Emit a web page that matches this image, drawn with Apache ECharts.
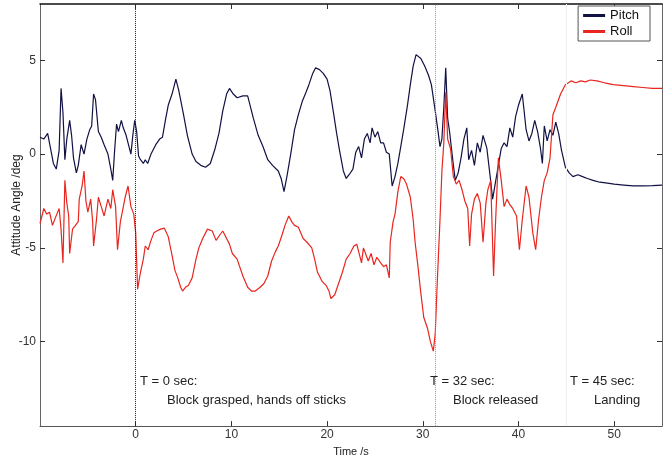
<!DOCTYPE html>
<html>
<head>
<meta charset="utf-8">
<script src="https://cdn.jsdelivr.net/npm/echarts@6/dist/echarts.min.js"></script>
<style>
  html, body { margin: 0; padding: 0; background: #fff; }
  #chart { width: 665px; height: 462px; }
</style>
</head>
<body>
<div id="chart"></div>
<script>
// time (s) and attitude angle (deg)
var pitchData = [
  [-10,0.9],[-9.6,0.8],[-9.2,1.1],[-8.9,0.3],[-8.6,-0.5],[-8.3,-0.8],[-8.0,0.2],[-7.8,3.5],[-7.6,2.2],
  [-7.4,-0.3],[-7.2,0.8],[-6.9,1.8],[-6.7,1.0],[-6.5,-0.2],[-6.2,-1.0],[-6.0,-0.6],[-5.7,0.5],[-5.4,0.0],
  [-5.1,0.8],[-4.8,1.3],[-4.6,1.5],[-4.4,3.2],[-4.2,2.9],[-3.9,1.2],[-3.6,0.9],[-3.3,0.5],[-2.9,0.0],
  [-2.6,-0.8],[-2.4,-1.4],[-2.2,0.2],[-2.0,1.6],[-1.8,1.2],[-1.5,1.8],[-1.3,1.4],[-1.0,1.0],[-0.7,0.4],
  [-0.5,0.0],[-0.3,1.0],[-0.1,1.8],[0.1,1.2],[0.3,-0.1],[0.5,-0.3],[0.8,-0.5],[1.0,-0.3],[1.25,-0.5],
  [1.6,0.0],[2.1,0.5],[2.5,0.8],[2.8,0.9],[3.1,1.8],[3.4,2.6],[3.8,3.2],[4.2,4.0],[4.5,3.4],[5.0,2.1],
  [5.4,1.0],[5.9,0.0],[6.3,-0.4],[6.8,-0.6],[7.3,-0.7],[7.8,-0.5],[8.3,0.3],[8.7,1.1],[9.1,2.3],[9.5,3.2],
  [9.8,3.5],[10.2,3.2],[10.6,3.0],[11.2,3.1],[11.7,3.1],[12.3,1.9],[12.8,1.0],[13.3,0.4],[13.8,-0.3],
  [14.3,-0.6],[14.9,-0.9],[15.2,-1.3],[15.5,-2.0],[15.8,-1.2],[16.2,0.0],[16.6,1.3],[17.0,2.1],[17.4,2.8],
  [17.8,3.3],[18.1,3.7],[18.5,4.3],[18.8,4.6],[19.2,4.5],[19.6,4.3],[20.0,4.0],[20.3,3.4],[20.7,2.1],
  [21.0,1.1],[21.3,0.2],[21.7,-0.9],[22.0,-1.3],[22.3,-1.1],[22.7,-0.8],[23.0,0.1],[23.3,0.4],[23.6,-0.2],
  [23.9,0.8],[24.2,1.1],[24.5,0.6],[24.7,1.4],[25.0,0.9],[25.3,1.2],[25.6,0.6],[25.9,0.6],[26.2,0.1],
  [26.5,0.0],[26.8,-1.7],[27.1,-1.2],[27.4,-0.5],[27.7,0.4],[28.0,1.3],[28.4,2.6],[28.7,3.7],[29.0,4.7],
  [29.3,5.3],[29.5,5.4],[29.8,5.1],[30.2,4.7],[30.6,4.2],[30.9,3.7],[31.3,2.3],[31.6,1.2],[31.8,0.4],
  [32.0,0.8],[32.2,2.5],[32.4,4.6],[32.6,1.9],[32.8,1.2],[33.0,0.3],[33.2,-0.6],[33.4,-1.4],[33.7,-1.0],
  [34.0,-0.2],[34.3,0.8],[34.6,1.4],[34.8,-0.3],[35.1,0.2],[35.4,-0.6],[35.7,0.6],[36.0,0.1],[36.3,1.0],
  [36.7,0.3],[37.0,-1.0],[37.3,-2.4],[37.6,-1.5],[37.9,-0.6],[38.2,0.3],[38.5,0.6],[38.8,0.4],[39.1,1.4],
  [39.4,0.9],[39.7,2.0],[40.0,2.6],[40.4,3.2],[40.6,3.3],[40.8,1.3],[41.1,0.7],[41.4,1.1],[41.7,1.8],
  [42.0,1.2],[42.3,0.3],[42.5,-0.5],[42.7,1.5],[43.0,0.7],[43.3,1.3],[43.6,1.0],[43.9,1.7],[44.2,1.1],
  [44.5,0.2],[44.9,-0.7],[45.3,-1.0],[45.7,-1.2],[46.2,-1.1],[46.7,-1.2],[47.2,-1.3],[47.8,-1.4],
  [48.5,-1.5],[49.3,-1.55],[50.0,-1.6],[51.0,-1.65],[52.0,-1.7],[53.0,-1.7],[54.0,-1.68],[55.0,-1.65]
];

var rollData = [
  [-10,-3.7],[-9.6,-2.9],[-9.3,-3.2],[-9.0,-3.1],[-8.7,-3.8],[-8.4,-3.4],[-8.0,-2.9],[-7.8,-4.0],[-7.6,-5.8],
  [-7.4,-1.4],[-7.2,-2.6],[-7.0,-3.3],[-6.9,-5.3],[-6.6,-4.0],[-6.3,-3.8],[-6.0,-3.6],[-5.9,-2.4],[-5.6,-1.7],
  [-5.4,-0.9],[-5.2,-2.5],[-5.0,-3.1],[-4.7,-2.4],[-4.5,-3.6],[-4.4,-4.9],[-4.1,-3.5],[-3.9,-2.3],[-3.6,-2.8],
  [-3.3,-3.3],[-2.9,-2.4],[-2.6,-2.9],[-2.4,-1.9],[-2.1,-2.8],[-1.9,-5.1],[-1.6,-3.6],[-1.4,-3.1],[-1.1,-2.3],
  [-0.8,-1.7],[-0.5,-2.8],[-0.2,-3.2],[0.0,-4.2],[0.2,-7.2],[0.5,-6.3],[0.8,-5.6],[1.0,-4.9],[1.3,-5.1],
  [1.6,-4.6],[1.9,-4.2],[2.2,-4.1],[2.6,-4.0],[3.0,-3.95],[3.4,-4.4],[3.8,-5.4],[4.1,-6.2],[4.4,-6.6],
  [4.7,-7.1],[4.9,-7.3],[5.2,-7.1],[5.5,-7.0],[5.9,-6.6],[6.3,-5.6],[6.6,-5.0],[7.0,-4.5],[7.5,-4.0],
  [8.0,-4.1],[8.4,-4.6],[8.8,-4.3],[9.1,-4.1],[9.5,-4.5],[9.8,-4.8],[10.1,-5.3],[10.6,-5.6],[11.2,-6.5],
  [11.7,-7.1],[12.1,-7.3],[12.5,-7.3],[13.0,-7.1],[13.4,-6.9],[13.8,-6.5],[14.2,-5.7],[14.6,-5.2],
  [14.9,-4.9],[15.3,-4.3],[15.6,-3.8],[16.0,-3.3],[16.3,-3.6],[16.6,-3.8],[17.0,-3.9],[17.5,-4.5],
  [17.9,-4.7],[18.4,-5.0],[18.7,-5.6],[19.0,-6.3],[19.5,-6.8],[19.9,-7.0],[20.2,-7.3],[20.4,-7.7],
  [20.8,-7.5],[21.2,-6.9],[21.6,-6.3],[22.0,-5.6],[22.4,-5.3],[22.8,-4.9],[23.1,-4.8],[23.3,-4.7],
  [23.6,-5.8],[23.8,-5.0],[24.0,-5.1],[24.3,-5.7],[24.6,-5.3],[24.9,-5.9],[25.2,-5.5],[25.6,-5.8],
  [25.9,-6.0],[26.2,-5.9],[26.5,-6.6],[26.6,-4.7],[26.9,-3.6],[27.1,-3.2],[27.4,-2.0],[27.7,-1.2],
  [28.0,-1.3],[28.3,-1.6],[28.7,-2.3],[29.0,-3.5],[29.2,-4.7],[29.5,-6.0],[29.75,-7.2],[30.1,-8.7],
  [30.5,-9.3],[30.8,-10.0],[31.1,-10.5],[31.3,-9.6],[31.5,-7.0],[31.8,-3.5],[32.0,-0.9],[32.2,0.6],
  [32.4,3.3],[32.6,0.8],[32.9,0.3],[33.2,-1.2],[33.5,-1.6],[33.8,-1.4],[34.1,-1.9],[34.4,-2.5],[34.7,-2.9],
  [34.9,-4.9],[35.1,-3.2],[35.4,-2.4],[35.7,-2.1],[36.0,-2.6],[36.3,-4.7],[36.6,-2.6],[36.8,-1.9],
  [37.1,-1.4],[37.4,-6.5],[37.6,-3.7],[37.9,-0.2],[38.2,-1.4],[38.5,-2.8],[38.8,-2.4],[39.1,-2.7],
  [39.4,-2.9],[39.8,-3.3],[40.1,-5.1],[40.4,-3.5],[40.8,-1.7],[41.1,-2.3],[41.5,-4.2],[41.8,-5.1],
  [42.1,-3.5],[42.4,-2.3],[42.7,-1.4],[43.0,-1.0],[43.3,-0.2],[43.6,2.1],[43.9,2.5],[44.4,3.2],[44.9,3.7],
  [45.5,3.9],[46.0,3.8],[46.5,3.9],[47.0,3.85],[47.5,3.95],[48.2,3.9],[49.0,3.8],[49.9,3.7],[51.0,3.65],
  [52.0,3.6],[53.0,3.55],[54.0,3.5],[55.0,3.5]
];

var xTicks = [0, 10, 20, 30, 40, 50];
var yTicks = [-10, -5, 0, 5];
var eventLines = [0, 31.3, 45];

var font = 'Liberation Sans, Arial, sans-serif';
var chart = echarts.init(document.getElementById('chart'));

var option = {
  animation: false,
  backgroundColor: '#fff',
  color: ['#111144', '#e8261f'],
  grid: { left: 40, right: 3, top: 4, bottom: 28 },
  legend: {
    data: ['Pitch', 'Roll'],
    orient: 'vertical',
    right: 15,
    top: 6,
    icon: 'rect',
    itemWidth: 22,
    itemHeight: 3,
    itemGap: 3,
    padding: [3, 11, 3, 5],
    borderColor: '#555',
    borderWidth: 1,
    backgroundColor: '#fff',
    textStyle: { fontFamily: font, fontSize: 13, color: '#111' }
  },
  xAxis: [{
    type: 'value',
    min: -10,
    max: 55,
    name: 'Time /s',
    nameLocation: 'middle',
    nameGap: 19,
    nameTextStyle: { fontFamily: font, fontSize: 11, color: '#222' },
    axisLine: { onZero: false, lineStyle: { color: '#555', width: 1 } },
    axisTick: { inside: true, length: 5, customValues: xTicks, lineStyle: { color: '#333' } },
    axisLabel: { customValues: xTicks, fontFamily: font, fontSize: 12, color: '#333', margin: 3 },
    splitLine: { show: false }
  }, {
    type: 'value',
    min: -10,
    max: 55,
    position: 'top',
    axisLine: { onZero: false, lineStyle: { color: '#111', width: 1.5 } },
    axisTick: { inside: true, length: 5, customValues: xTicks, lineStyle: { color: '#333' } },
    axisLabel: { show: false },
    splitLine: { show: false }
  }],
  yAxis: [{
    type: 'value',
    min: -14.5,
    max: 8,
    axisLine: { show: true, onZero: false, lineStyle: { color: '#666', width: 1 } },
    axisTick: { show: true, inside: true, length: 5, customValues: yTicks, lineStyle: { color: '#333' } },
    axisLabel: { customValues: yTicks, fontFamily: font, fontSize: 12, color: '#333', margin: 4 },
    splitLine: { show: false }
  }, {
    type: 'value',
    min: -14.5,
    max: 8,
    position: 'right',
    axisLine: { show: true, onZero: false, lineStyle: { color: '#666', width: 1 } },
    axisTick: { show: true, inside: true, length: 5, customValues: yTicks, lineStyle: { color: '#333' } },
    axisLabel: { show: false },
    splitLine: { show: false }
  }],
  series: [
    {
      name: 'Pitch',
      type: 'line',
      data: pitchData,
      showSymbol: false,
      lineStyle: { width: 1.2, color: '#111144' },
      markLine: {
        silent: true,
        symbol: 'none',
        label: { show: false },
        data: [
          { xAxis: eventLines[0], lineStyle: { color: '#222', type: 'dotted', width: 1 } },
          { xAxis: eventLines[1], lineStyle: { color: '#999', type: 'dotted', width: 1 } },
          { xAxis: eventLines[2], lineStyle: { color: '#eee', type: 'solid', width: 1 } }
        ]
      }
    },
    {
      name: 'Roll',
      type: 'line',
      data: rollData,
      showSymbol: false,
      lineStyle: { width: 1.2, color: '#e8261f' }
    }
  ],
  graphic: [
    { type: 'text', x: 17, y: 205, rotation: Math.PI / 2,
      style: { text: 'Attitude Angle /deg', fontFamily: font, fontSize: 12, fill: '#222', align: 'center', verticalAlign: 'middle' } },
    { type: 'text', x: 140, y: 381,
      style: { text: 'T = 0 sec:', fontFamily: font, fontSize: 13, fill: '#222', verticalAlign: 'middle' } },
    { type: 'text', x: 167, y: 400,
      style: { text: 'Block grasped, hands off sticks', fontFamily: font, fontSize: 13, fill: '#222', verticalAlign: 'middle' } },
    { type: 'text', x: 430, y: 381,
      style: { text: 'T = 32 sec:', fontFamily: font, fontSize: 13, fill: '#222', verticalAlign: 'middle' } },
    { type: 'text', x: 453, y: 400,
      style: { text: 'Block released', fontFamily: font, fontSize: 13, fill: '#222', verticalAlign: 'middle' } },
    { type: 'text', x: 570, y: 381,
      style: { text: 'T = 45 sec:', fontFamily: font, fontSize: 13, fill: '#222', verticalAlign: 'middle' } },
    { type: 'text', x: 594, y: 400,
      style: { text: 'Landing', fontFamily: font, fontSize: 13, fill: '#222', verticalAlign: 'middle' } }
  ]
};

chart.setOption(option);
</script>
</body>
</html>
